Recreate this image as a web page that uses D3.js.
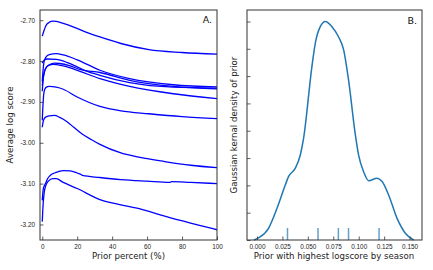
<!DOCTYPE html>
<html>
<head>
<meta charset="utf-8">
<script src="https://cdn.jsdelivr.net/npm/d3@7"></script>
<style>
  body { margin: 0; background: #fff; }
  svg { font-family: "DejaVu Sans", sans-serif; }
  .axis path { display: none; }
  .axis line { stroke: #333; stroke-width: 0.8; }
  .axis text { fill: #222; font-size: 6.4px; }
  .lab { font-size: 8.6px; fill: #222; }
  .panel { font-size: 9.5px; fill: #111; }
</style>
</head>
<body>
<div id="chart"></div>
<script>
// Panel A: average log score vs prior percent, one line per season
var season1 = [[0,-2.739],[1,-2.725],[2,-2.714],[4,-2.705],[6,-2.702],[8,-2.703],[12,-2.708],[18,-2.717],[25,-2.729],[33,-2.741],[45,-2.757],[61,-2.772],[80,-2.779],[100,-2.783]];
var season2 = [[0,-2.850],[0.5,-2.820],[1,-2.802],[2,-2.791],[4,-2.784],[8,-2.782],[12,-2.785],[20,-2.797],[33,-2.8225],[50,-2.843],[75,-2.858],[100,-2.863]];
var season3 = [[0,-2.805],[1,-2.798],[3,-2.795],[8,-2.796],[14,-2.803],[20,-2.814],[25,-2.824],[33,-2.835],[50,-2.853],[75,-2.864],[100,-2.866]];
var season4 = [[0,-2.874],[0.5,-2.845],[1,-2.830],[2,-2.818],[4,-2.809],[7,-2.805],[10,-2.806],[16,-2.812],[22,-2.821],[33,-2.828],[50,-2.847],[75,-2.862],[100,-2.868]];
var season5 = [[0,-2.860],[1,-2.830],[3,-2.812],[6,-2.808],[12,-2.812],[22,-2.826],[33,-2.843],[50,-2.862],[75,-2.880],[100,-2.892]];
var season6 = [[0,-2.945],[0.5,-2.900],[1,-2.876],[2,-2.865],[4,-2.862],[8,-2.864],[12,-2.869],[20,-2.888],[33,-2.911],[45,-2.922],[61,-2.929],[80,-2.936],[100,-2.941]];
var season7 = [[0,-2.962],[0.5,-2.948],[1,-2.942],[2,-2.937],[4,-2.934],[7,-2.933],[10,-2.938],[14,-2.948],[18,-2.962],[23,-2.979],[28,-2.992],[33,-3.004],[45,-3.025],[56,-3.036],[70,-3.046],[85,-3.055],[100,-3.061]];
var season8 = [[0,-3.141],[0.5,-3.115],[1,-3.107],[1.5,-3.103],[3,-3.088],[5,-3.078],[7,-3.074],[9,-3.071],[12,-3.068],[16,-3.069],[20,-3.074],[22,-3.077],[23,-3.080],[33,-3.085],[45,-3.090],[60,-3.094],[73,-3.097],[74,-3.095],[85,-3.097],[100,-3.100]];
var season9 = [[0,-3.193],[0.5,-3.150],[1,-3.125],[2,-3.105],[3.5,-3.094],[6,-3.088],[8,-3.088],[12,-3.097],[20,-3.112],[33,-3.139],[45,-3.152],[56,-3.162],[68,-3.177],[79,-3.190],[90,-3.202],[100,-3.213]];
var seasons = [season1, season2, season3, season4, season5, season6, season7, season8, season9];
var scoreTicks = [-2.70, -2.80, -2.90, -3.00, -3.10, -3.20];
var pctTicks = [0, 20, 40, 60, 80, 100];

// Panel B: kernel density of best prior
var kdeX = [-0.003,0.0016,0.0114,0.0197,0.0278,0.031,0.0377,0.0426,0.0458,0.054,0.0573,0.0622,0.0672,0.0737,0.080,0.0852,0.090,0.0967,0.0999,0.1048,0.1097,0.118,0.123,0.1294,0.1377,0.1458,0.154];
var kdeY = [0,0.08,0.43,1.16,2.01,2.32,2.63,3.11,3.72,6.35,7.2,7.81,8.0,7.81,7.45,6.96,5.86,3.85,3.11,2.5,2.17,2.26,2.14,1.65,0.79,0.25,0];
var bestPrior = [0.03, 0.06, 0.08, 0.09, 0.12];
var priorTicks = [0.000, 0.025, 0.050, 0.075, 0.100, 0.125, 0.150];
var densTicks = [0, 1, 2, 3, 4, 5, 6, 7, 8];

var W = 433, H = 270;
var svg = d3.select("#chart").append("svg").attr("width", W).attr("height", H);

// ---- panel A
var xA = d3.scaleLinear().domain([-1.3, 100]).range([40, 217]);
var yA = d3.scaleLinear().domain([-3.238, -2.675]).range([240, 10]);

var lineA = d3.line()
  .x(function(d) { return xA(d[0]); })
  .y(function(d) { return yA(d[1]); })
  .curve(d3.curveMonotoneX);

var gA = svg.append("g");
gA.append("defs").append("clipPath").attr("id", "clipA")
  .append("rect").attr("x", 40).attr("y", 10).attr("width", 177).attr("height", 230);

gA.append("g").attr("clip-path", "url(#clipA)")
  .selectAll("path")
  .data(seasons)
  .enter().append("path")
    .attr("d", lineA)
    .attr("fill", "none")
    .attr("stroke", "#0000ff")
    .attr("stroke-width", 1.3);

gA.append("g").attr("class", "axis")
  .attr("transform", "translate(40,0)")
  .call(d3.axisLeft(yA).tickValues(scoreTicks).tickSizeInner(-3.5).tickPadding(5)
    .tickFormat(function(d) { return d3.format(".2f")(d).replace("\u2212", "-"); }));

gA.append("g").attr("class", "axis")
  .attr("transform", "translate(0,240)")
  .call(d3.axisBottom(xA).tickValues(pctTicks).tickSizeInner(-3.5).tickPadding(4));

gA.append("rect").attr("x", 40).attr("y", 10).attr("width", 177).attr("height", 230)
  .attr("fill", "none").attr("stroke", "#333").attr("stroke-width", 1);

gA.append("text").attr("class", "lab")
  .attr("x", 128.5).attr("y", 259).attr("text-anchor", "middle")
  .text("Prior percent (%)");
gA.append("text").attr("class", "lab")
  .attr("transform", "translate(13,125) rotate(-90)").attr("text-anchor", "middle")
  .text("Average log score");
gA.append("text").attr("class", "panel")
  .attr("x", 212).attr("y", 23).attr("text-anchor", "end")
  .text("A.");

// ---- panel B
var xB = d3.scaleLinear().domain([-0.0098, 0.1622]).range([247, 422]);
var yB = d3.scaleLinear().domain([0, 8.42]).range([240, 10]);

var gB = svg.append("g");

gB.append("path")
  .datum(d3.zip(kdeX, kdeY))
  .attr("d", d3.line()
    .x(function(d) { return xB(d[0]); })
    .y(function(d) { return yB(d[1]); })
    .curve(d3.curveMonotoneX))
  .attr("fill", "none")
  .attr("stroke", "#1f77b4")
  .attr("stroke-width", 1.5);

gB.append("g")
  .selectAll("line")
  .data(bestPrior)
  .enter().append("line")
    .attr("x1", function(d) { return xB(d); })
    .attr("x2", function(d) { return xB(d); })
    .attr("y1", 240)
    .attr("y2", 228)
    .attr("stroke", "#1f77b4")
    .attr("stroke-opacity", 0.7)
    .attr("stroke-width", 1.5);

gB.append("g").attr("class", "axis")
  .attr("transform", "translate(247,0)")
  .call(d3.axisLeft(yB).tickValues(densTicks).tickSizeInner(-3.5).tickFormat(""));

gB.append("g").attr("class", "axis")
  .attr("transform", "translate(0,240)")
  .call(d3.axisBottom(xB).tickValues(priorTicks).tickSizeInner(-3.5).tickPadding(4)
    .tickFormat(d3.format(".3f")));

gB.append("rect").attr("x", 247).attr("y", 10).attr("width", 175).attr("height", 230)
  .attr("fill", "none").attr("stroke", "#333").attr("stroke-width", 1);

gB.append("text").attr("class", "lab")
  .attr("x", 334).attr("y", 259).attr("text-anchor", "middle")
  .text("Prior with highest logscore by season");
gB.append("text").attr("class", "lab")
  .attr("transform", "translate(237,125) rotate(-90)").attr("text-anchor", "middle")
  .text("Gaussian kernal density of prior");
gB.append("text").attr("class", "panel")
  .attr("x", 417).attr("y", 24).attr("text-anchor", "end")
  .text("B.");
</script>
</body>
</html>
